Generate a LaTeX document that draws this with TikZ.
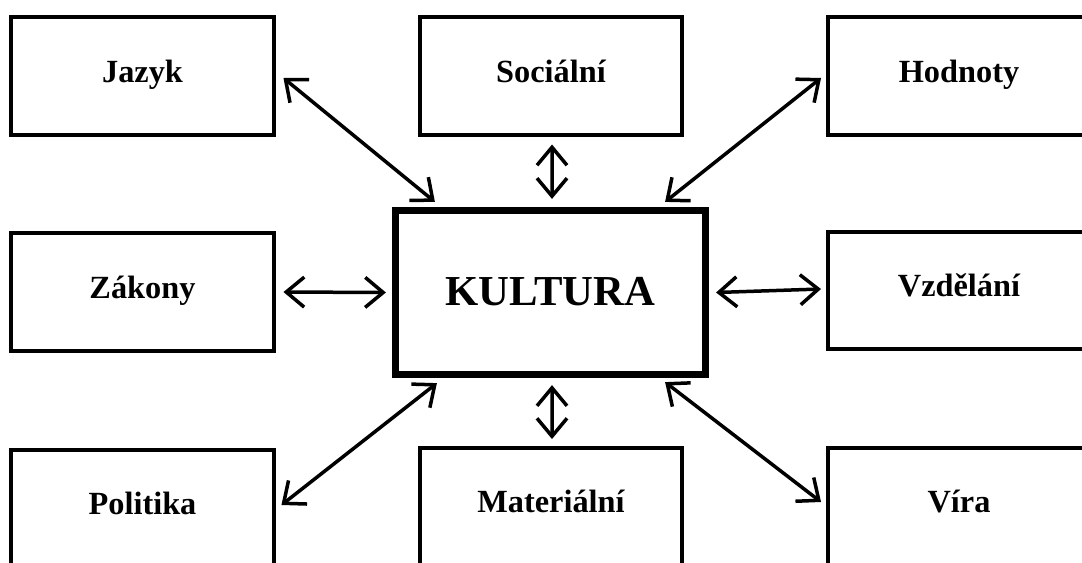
\documentclass[tikz,border=0pt]{standalone}
\usepackage{fontspec}
\setmainfont{Liberation Serif}
\usetikzlibrary{arrows.meta}

\tikzset{
  pojem/.style={draw, line width=0.08cm, minimum width=5.26cm, minimum height=2.36cm,
    inner sep=0pt, text height=0.37cm, text depth=0.13cm,
    font=\bfseries\fontsize{18.4}{21}\selectfont},
  jadro/.style={draw, line width=0.125cm, minimum width=6.2cm, minimum height=3.28cm,
    inner sep=0pt, text height=0.6cm, text depth=0.1cm,
    font=\bfseries\fontsize{24.3}{28}\selectfont},
  vazba/.style={line width=0.07cm, line cap=round,
    {Straight Barb[length=0.36cm,width=0.6cm]}-{Straight Barb[length=0.36cm,width=0.6cm]}}
}

\begin{document}
\begin{tikzpicture}[x=0.02cm,y=-0.02cm]
                \useasboundingbox (0,0) rectangle (1082,562);
                \clip (0,0) rectangle (1082,562);

                % Drawing central box
                \node [jadro] (kultura) at (550.5,292.5) {KULTURA};%

                % Drawing top row
                \node [pojem] (jazyk) at (142.5,76) {Jazyk};%
                \node [pojem] (socialni) at (551,76) {Sociální};%
                \node [pojem] (hodnoty) at (959,76) {Hodnoty};%

                % Drawing middle row
                \node [pojem] (zakony) at (142.5,292) {Zákony};%
                \node [pojem] (vzdelani) at (959,290.5) {Vzdělání};%

                % Drawing bottom row
                \node [pojem] (politika) at (142.5,508.5) {Politika};%
                \node [pojem] (materialni) at (551,506.5) {Materiální};%
                \node [pojem] (vira) at (959,506.5) {Víra};%

                % Drawing arrows to KULTURA
                \draw [vazba] ([shift={(7.5,2)}]jazyk.east) -- ([shift={(42.5,-5.5)}]kultura.north west);%
                \draw [vazba] ([shift={(1,7.5)}]socialni.south) -- ([shift={(1.5,-8.5)}]kultura.north);%
                \draw [vazba] ([shift={(-4.5,2)}]hodnoty.west) -- ([shift={(-43.5,-5.5)}]kultura.north east);%
                \draw [vazba] ([shift={(7.5,0)}]zakony.east) -- ([shift={(-6.5,0)}]kultura.west);%
                \draw [vazba] ([shift={(7.5,0)}]kultura.east) -- ([shift={(-4.5,-1.5)}]vzdelani.west);%
                \draw [vazba] ([shift={(5.5,-3.5)}]politika.east) -- ([shift={(44.5,5.5)}]kultura.south west);%
                \draw [vazba] ([shift={(1,-6.5)}]materialni.north) -- ([shift={(1.5,7.5)}]kultura.south);%
                \draw [vazba] ([shift={(-4.5,-4.5)}]vira.west) -- ([shift={(-43.5,4.5)}]kultura.south east);%
\end{tikzpicture}
\end{document}
